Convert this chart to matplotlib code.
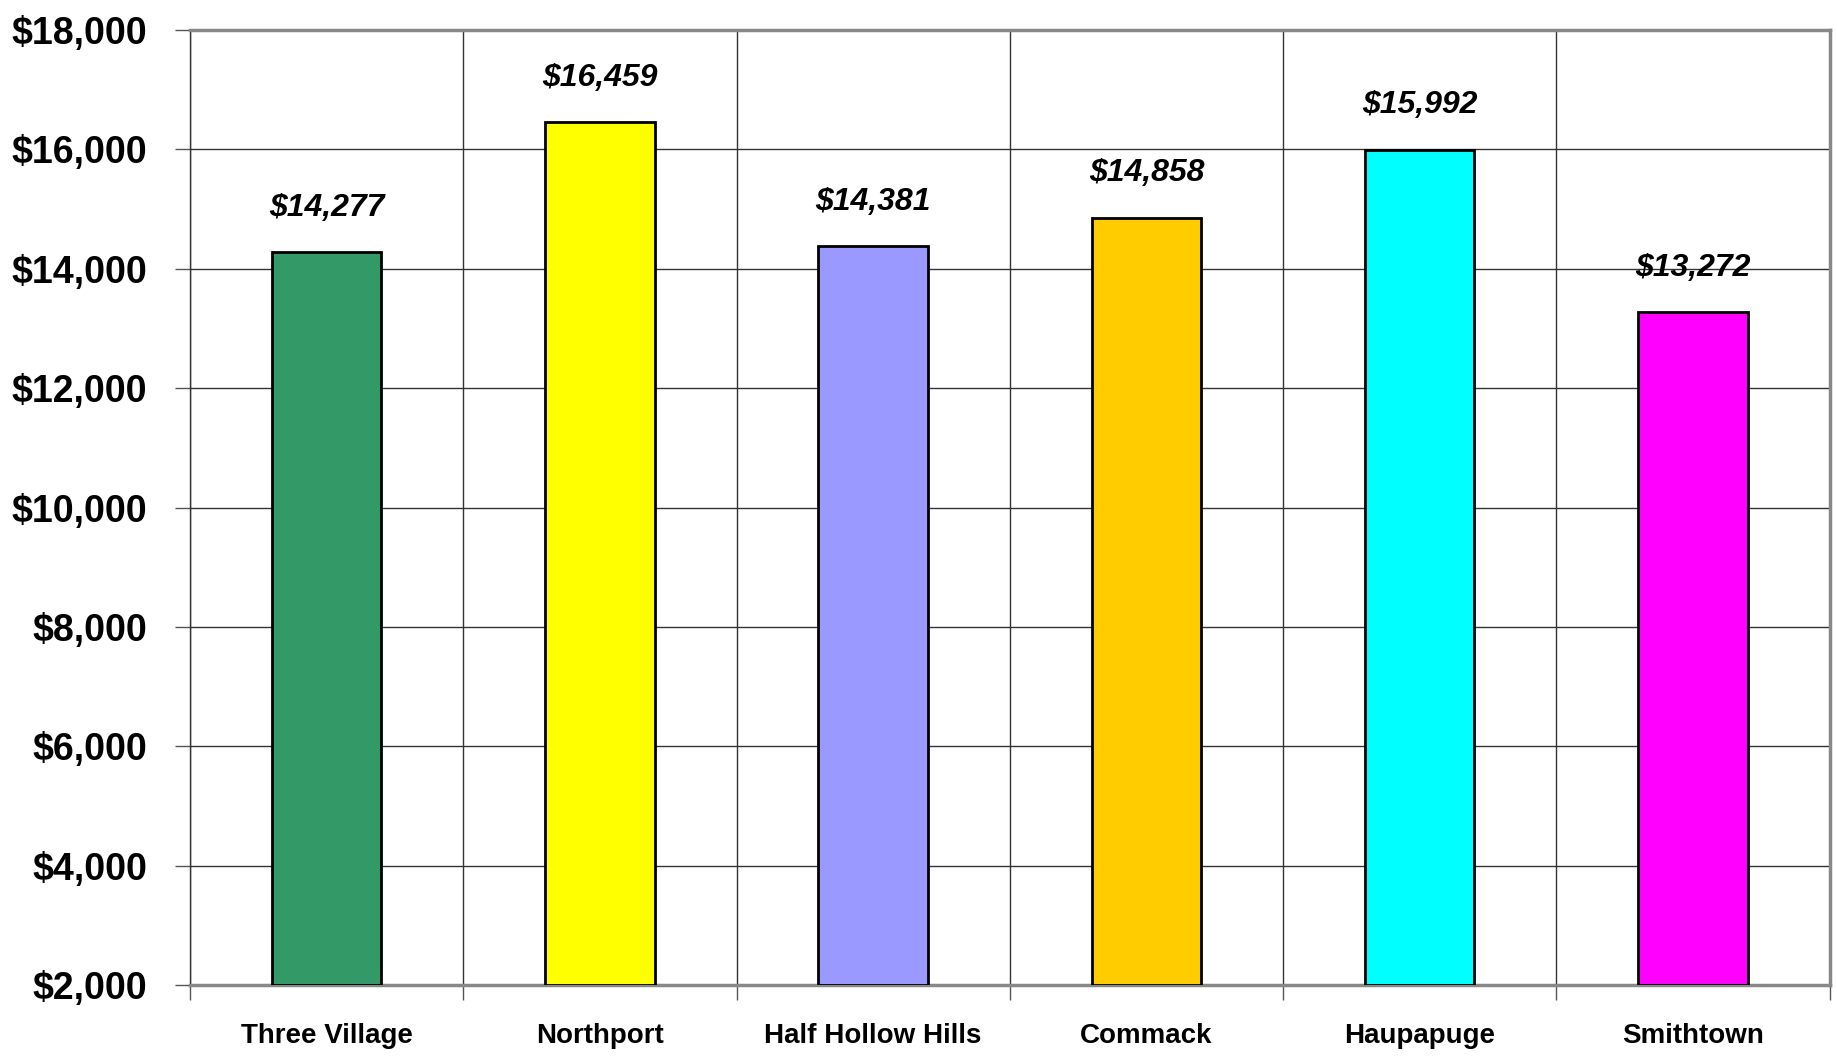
import numpy as np
import matplotlib.pyplot as plt
from matplotlib.ticker import FuncFormatter

districts = ['Three Village', 'Northport', 'Half Hollow Hills', 'Commack', 'Haupapuge', 'Smithtown']
spending = [14277, 16459, 14381, 14858, 15992, 13272]
colors = ['#339966', '#FFFF00', '#9999FF', '#FFCC00', '#00FFFF', '#FF00FF']

plt.rcParams['font.family'] = ['Liberation Sans', 'DejaVu Sans']

fig = plt.figure(figsize=(18.37, 10.57), dpi=100)
ax = fig.add_axes([0.1034, 0.068, 0.8926, 0.9036])

x = np.arange(len(districts))
ax.bar(x, np.array(spending) - 2000, bottom=2000, width=0.4, color=colors,
       edgecolor='black', linewidth=2, zorder=3)

for xi, v in zip(x, spending):
    ax.annotate(f'${v:,}', (xi, v), xytext=(0, 32), textcoords='offset points',
                ha='center', va='center', fontsize=23, fontweight='bold', style='italic')

ax.set_xlim(-0.5, len(districts) - 0.5)
ax.set_ylim(2000, 18000)
ax.set_yticks(np.arange(2000, 18001, 2000))
ax.yaxis.set_major_formatter(FuncFormatter(lambda v, p: f'${int(v):,}'))

# boundaries get the ticks and grid, centres get the labels
ax.set_xticks(np.arange(-0.5, len(districts), 1.0))
ax.set_xticklabels([])
ax.set_xticks(x, minor=True)
ax.set_xticklabels(districts, minor=True)
ax.tick_params(axis='x', which='major', length=11, width=1, color='#555555')
ax.tick_params(axis='x', which='minor', length=0, pad=27, labelsize=20)
ax.tick_params(axis='y', length=11, width=1, color='#555555', pad=20, labelsize=27)
for lab in ax.get_xticklabels(minor=True) + ax.get_yticklabels():
    lab.set_fontweight('bold')

ax.grid(True, which='major', color='#333333', linewidth=1, zorder=0)
ax.set_axisbelow(True)
for s in ax.spines.values():
    s.set_color('#888888')
    s.set_linewidth(2.5)
ax.spines['left'].set_color('#333333')
ax.spines['left'].set_linewidth(1)

fig.savefig('out.png', dpi=100)
